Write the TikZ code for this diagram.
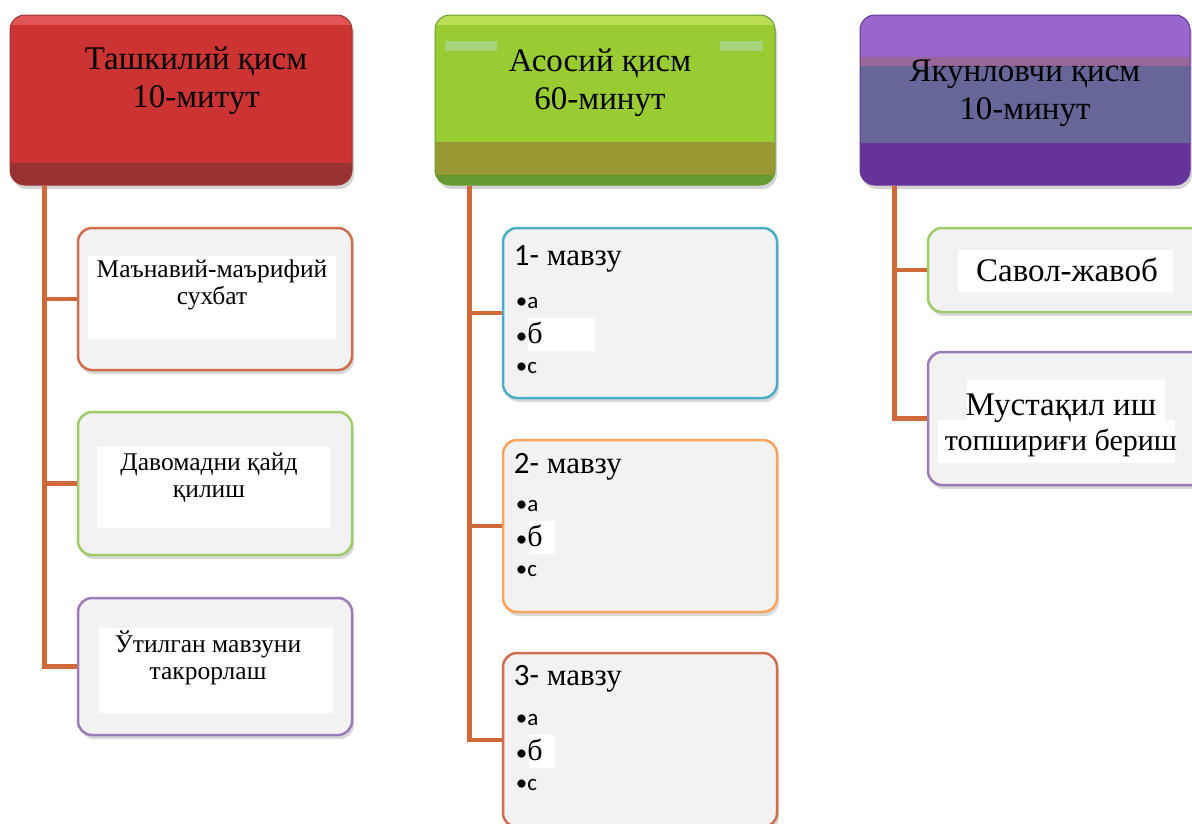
\documentclass[tikz,border=0pt]{standalone}
\usepackage{fontspec}
\setmainfont{Liberation Serif}
\newfontfamily\calibri{Carlito}
\usetikzlibrary{shadows}

\definecolor{redmain}{HTML}{CC3333}
\definecolor{redband}{HTML}{993333}
\definecolor{redlight}{HTML}{E05555}
\definecolor{greenmain}{HTML}{99CC33}
\definecolor{greenband}{HTML}{999933}
\definecolor{greendark}{HTML}{669933}
\definecolor{greenlight}{HTML}{BBDD55}
\definecolor{greenpale}{HTML}{A6D27A}
\definecolor{purpletop}{HTML}{9966CC}
\definecolor{purplemid}{HTML}{666699}
\definecolor{purplebot}{HTML}{663399}
\definecolor{purplestripe}{HTML}{996699}
\definecolor{trunkcol}{HTML}{D0693A}
\definecolor{boxgray}{HTML}{F2F2F2}
\definecolor{bred}{HTML}{CF6D4E}
\definecolor{bgreen}{HTML}{9DCB68}
\definecolor{bpurple}{HTML}{9A7CB8}
\definecolor{bblue}{HTML}{4BACC6}
\definecolor{borange}{HTML}{F8A45A}

\newcommand\headfont{\fontsize{33}{38}\selectfont}
\newcommand\leftfont{\fontsize{25.5}{27}\selectfont}
\newcommand\rightfont{\fontsize{33}{35}\selectfont}
\newcommand\smallright{\fontsize{30}{35}\selectfont}
\newcommand\titlefont{\fontsize{31}{36}\selectfont}
\newcommand\bulletfont{\calibri\fontsize{23}{26}\selectfont}
\newcommand\bigb{\rmfamily\fontsize{30}{32}\selectfont}

\begin{document}
\begin{tikzpicture}[x=1pt,y=-1pt,
  head/.style={rectangle, rounded corners=15pt, minimum height=170, inner sep=0, line width=1pt,
    drop shadow={shadow xshift=2pt, shadow yshift=-4pt, opacity=0.35}},
  headred/.style={head, fill=redmain, draw=redband, minimum width=342, path picture={
    \fill[redband, sharp corners] (path picture bounding box.south west) rectangle ([yshift=22pt]path picture bounding box.south east);
    \fill[redlight, sharp corners] (path picture bounding box.north west) rectangle ([yshift=-10pt]path picture bounding box.north east);}},
  headgreen/.style={head, fill=greenmain, draw=greendark, minimum width=340, path picture={
    \fill[greendark, sharp corners] (path picture bounding box.south west) rectangle ([yshift=43pt]path picture bounding box.south east);
    \fill[greenband, sharp corners] ([yshift=10pt]path picture bounding box.south west) rectangle ([yshift=43pt]path picture bounding box.south east);
    \fill[greenlight, sharp corners] (path picture bounding box.north west) rectangle ([yshift=-10pt]path picture bounding box.north east);
    \fill[greenpale, sharp corners] ([xshift=10pt,yshift=-26pt]path picture bounding box.north west) rectangle ++(52,10);
    \fill[greenpale, sharp corners] ([xshift=-55pt,yshift=-26pt]path picture bounding box.north east) rectangle ++(43,10);}},
  headpurple/.style={head, fill=purplemid, draw=purplebot, minimum width=330, path picture={
    \fill[purpletop, sharp corners] (path picture bounding box.north west) rectangle ([yshift=-42pt]path picture bounding box.north east);
    \fill[purplestripe, sharp corners] ([yshift=-42pt]path picture bounding box.north west) rectangle ([yshift=-51pt]path picture bounding box.north east);
    \fill[purplebot, sharp corners] (path picture bounding box.south west) rectangle ([yshift=42pt]path picture bounding box.south east);}},
  headtxt/.style={font=\headfont, align=center, inner sep=0},
  item/.style={rectangle, rounded corners=14pt, fill=boxgray, line width=2.5pt, minimum width=274, inner sep=0,
    drop shadow={shadow xshift=2pt, shadow yshift=-4pt, opacity=0.3}},
  blank/.style={fill=white, inner sep=0},
  lefttxt/.style={font=\leftfont, align=center, inner sep=0},
  righttxt/.style={font=\rightfont, align=center, inner sep=0},
  topic/.style={font=\titlefont, anchor=base west, inner sep=0},
  bull/.style={font=\bulletfont, anchor=base west, inner sep=0},
  trunk/.style={draw=trunkcol, line width=4.5pt}]

\path[use as bounding box, clip] (0,0) rectangle (1192,823);

% headers
\node[headred] (ta) at (181,100) {};
\node[headtxt] (tatxt) at (196,81) {Ташкилий қисм\\ 10-митут};
\node[headgreen] (as) at (605,100) {};
\node[headtxt] (astxt) at (600,83) {Асосий қисм\\ 60-минут};
\node[headpurple] (ya) at (1025,100) {};
\node[headtxt] (yatxt) at (1025,93) {Якунловчи қисм\\ 10-минут};

% left column
\node[item, draw=bred, minimum height=142] (ta1) at (215,299) {};
\node[blank, minimum width=248, minimum height=83] (ta1w) at (212,297) {};
\node[lefttxt] (ta1t) at (212,285) {Маънавий-маърифий\\ сухбат};

\node[item, draw=bgreen, minimum height=143] (ta2) at (215,483.5) {};
\node[blank, minimum width=233, minimum height=81] (ta2w) at (213.5,487.5) {};
\node[lefttxt] (ta2t) at (209,478) {Давомадни қайд\\ қилиш};

\node[item, draw=bpurple, minimum height=137] (ta3) at (215,666.5) {};
\node[blank, minimum width=234, minimum height=85] (ta3w) at (216,670.5) {};
\node[lefttxt] (ta3t) at (208,658) {Ўтилган мавзуни\\ такрорлаш};

\draw[trunk] ([xshift=35pt]ta.south west) |- (ta1.west);
\draw[trunk] ([xshift=35pt]ta.south west) |- (ta2.west);
\draw[trunk] ([xshift=35pt]ta.south west) |- (ta3.west);

% middle column
\node[item, draw=bblue, minimum height=170] (m1) at (640,313) {};
\node[blank, anchor=north west, minimum width=67, minimum height=33] (m1w) at ([xshift=26pt,yshift=-91pt]m1.north west) {};
\node[topic] (m1t) at ([xshift=12pt,yshift=-39pt]m1.north west) {{\calibri 1-} мавзу};
\node[bull] (m1a) at ([xshift=14pt,yshift=-82pt]m1.north west) {•а};
\node[bull] (m1b) at ([xshift=14pt,yshift=-117pt]m1.north west) {•{\bigb б}};
\node[bull] (m1c) at ([xshift=14pt,yshift=-147pt]m1.north west) {•с};

\node[item, draw=borange, minimum height=172] (m2) at (640,526) {};
\node[blank, anchor=north west, minimum width=26, minimum height=33] (m2w) at ([xshift=27pt,yshift=-82pt]m2.north west) {};
\node[topic] (m2t) at ([xshift=12pt,yshift=-35pt]m2.north west) {{\calibri 2-} мавзу};
\node[bull] (m2a) at ([xshift=14pt,yshift=-73pt]m2.north west) {•а};
\node[bull] (m2b) at ([xshift=14pt,yshift=-108pt]m2.north west) {•{\bigb б}};
\node[bull] (m2c) at ([xshift=14pt,yshift=-138pt]m2.north west) {•с};

\node[item, draw=bred, minimum height=174] (m3) at (640,740) {};
\node[blank, anchor=north west, minimum width=26, minimum height=33] (m3w) at ([xshift=27pt,yshift=-83pt]m3.north west) {};
\node[topic] (m3t) at ([xshift=12pt,yshift=-34pt]m3.north west) {{\calibri 3-} мавзу};
\node[bull] (m3a) at ([xshift=14pt,yshift=-74pt]m3.north west) {•а};
\node[bull] (m3b) at ([xshift=14pt,yshift=-109pt]m3.north west) {•{\bigb б}};
\node[bull] (m3c) at ([xshift=14pt,yshift=-139pt]m3.north west) {•с};

\draw[trunk] ([xshift=35pt]as.south west) |- (m1.west);
\draw[trunk] ([xshift=35pt]as.south west) |- (m2.west);
\draw[trunk] ([xshift=35pt]as.south west) |- (m3.west);

% right column
\node[item, draw=bgreen, minimum width=287, minimum height=84] (ya1) at (1071.5,270) {};
\node[blank, minimum width=215, minimum height=42] (ya1w) at (1065.5,271) {};
\node[righttxt, anchor=base] (ya1t) at (1067,281) {Савол-жавоб};

\node[item, draw=bpurple, minimum width=287, minimum height=133] (ya2) at (1071.5,418.5) {};
\node[blank, minimum width=198, minimum height=40] (ya2w) at (1066,400) {};
\node[blank, minimum width=237, minimum height=43] (ya2v) at (1056.5,441.5) {};
\node[righttxt] (ya2t) at (1061,425) {Мустақил иш\\ {\smallright топшириғи бериш}};

\draw[trunk] ([xshift=35pt]ya.south west) |- (ya1.west);
\draw[trunk] ([xshift=35pt]ya.south west) |- (ya2.west);
\end{tikzpicture}
\end{document}
